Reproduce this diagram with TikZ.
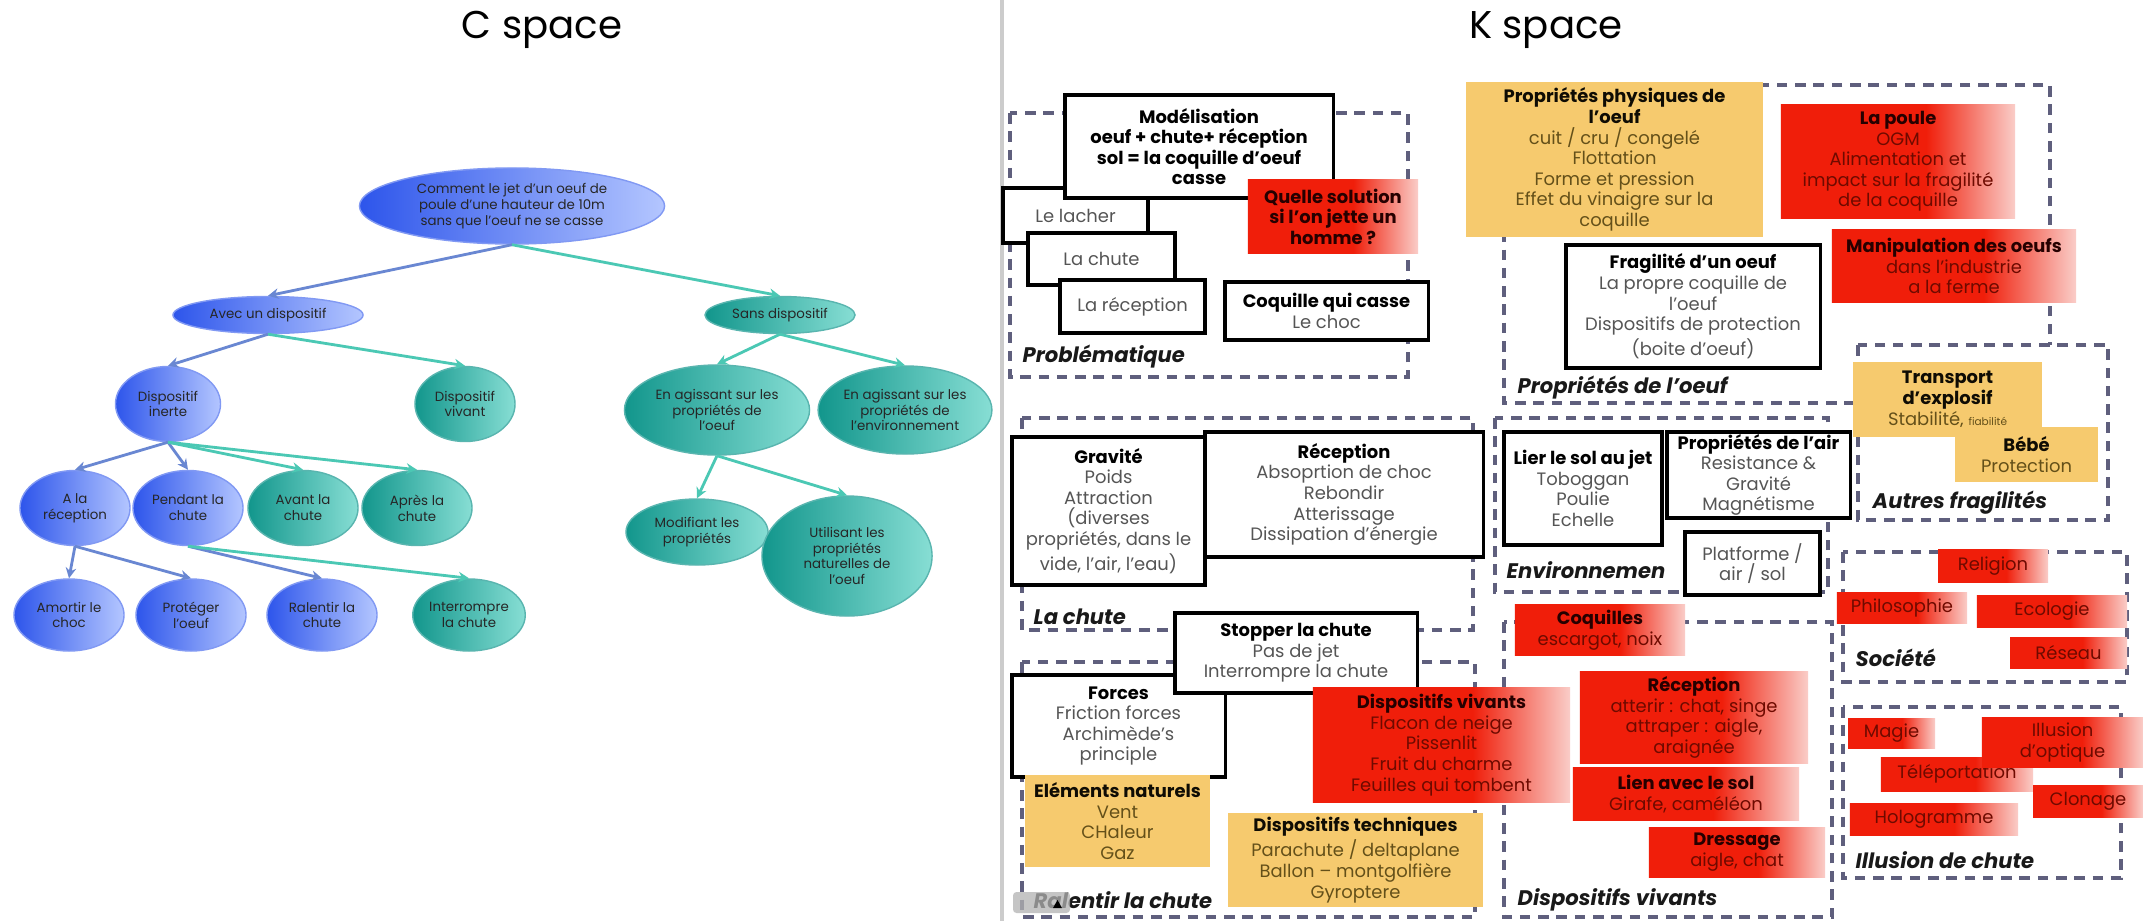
\documentclass[tikz,border=0pt]{standalone}
\usepackage{fontspec}
\setmainfont{Poppins}
\usetikzlibrary{arrows.meta}
\usetikzlibrary{shapes.geometric}

\definecolor{cbluedark}{RGB}{45,85,235}
\definecolor{cbluelight}{RGB}{180,198,255}
\definecolor{ctealdark}{RGB}{18,150,140}
\definecolor{ctheallight}{RGB}{135,222,212}
\definecolor{cbluelink}{RGB}{105,135,210}
\definecolor{ctheallink}{RGB}{75,200,180}
\definecolor{kgray}{RGB}{85,85,85}
\definecolor{kdash}{RGB}{95,95,125}
\definecolor{korange}{RGB}{246,202,110}
\definecolor{kbrown}{RGB}{100,80,25}
\definecolor{kred}{RGB}{240,30,10}
\definecolor{kpink}{RGB}{250,205,200}
\definecolor{kredtext}{RGB}{110,10,0}
\colorlet{kheadc}{black}

\pgfdeclarehorizontalshading{redfade}{100bp}{color(0bp)=(kred); color(25bp)=(kred); color(56bp)=(kred); color(75bp)=(kpink); color(100bp)=(kpink)}

\newcommand\csmall{\fontsize{3.8}{4.5}\selectfont}
\newcommand\ksmall{\fontsize{5.1}{5.85}\selectfont}
\newcommand\klab{\fontsize{6}{7}\selectfont\bfseries\itshape}
\newcommand\spacetitle{\fontsize{11}{13}\selectfont}
\newcommand\kh[1]{\textbf{\textcolor{kheadc}{#1}}}

\tikzset{
  cnode/.style={ellipse, inner sep=0pt, align=center, font=\csmall, text=black!85},
  cblue/.style={cnode, left color=cbluedark, right color=cbluelight, draw=cbluedark!60!white, line width=0.4pt},
  cteal/.style={cnode, left color=ctealdark, right color=ctheallight, draw=ctealdark!70!white, line width=0.4pt},
  clinkb/.style={draw=cbluelink, line width=0.8pt, -{Stealth[length=3pt, width=3pt]}},
  clinkt/.style={draw=ctheallink, line width=0.8pt, -{Stealth[length=3pt, width=3pt]}},
  kbase/.style={inner sep=0pt, align=center, font=\ksmall},
  kbox/.style={kbase, draw=black, line width=0.9pt, fill=white, text=kgray, execute at begin node=\colorlet{kheadc}{black}},
  kwarm/.style={kbase, fill=korange, text=kbrown, execute at begin node=\colorlet{kheadc}{black!85!kbrown}},
  khot/.style={kbase, shade, shading=redfade, text=kredtext, execute at begin node=\colorlet{kheadc}{black!85!red}},
  kgroup/.style={draw=kdash, line width=0.9pt, dash pattern=on 3pt off 2.2pt},
  klabel/.style={anchor=west, inner sep=0pt, font=\klab, text=black!90},
}

\begin{document}
\begin{tikzpicture}[x=0.01cm, y=-0.01cm]
  \useasboundingbox (0,0) rectangle (2143,921);
  \fill[white] (0,0) rectangle (2143,921);
  \draw[black!20, line width=1pt] (1002,0) -- (1002,921);

  % C space
  \node[font=\spacetitle] (ctitle) at (542,30) {C space};
  \node[cblue, minimum width=3.05cm, minimum height=0.76cm] (root) at (512,206) {Comment le jet d'un oeuf de\\poule d'une hauteur de 10m\\sans que l'oeuf ne se casse};
  \node[cblue, minimum width=1.9cm, minimum height=0.37cm] (avec) at (268,315) {Avec un dispositif};
  \node[cteal, minimum width=1.5cm, minimum height=0.37cm] (sans) at (780,315) {Sans dispositif};
  \node[cblue, minimum width=1.05cm, minimum height=0.75cm] (inerte) at (168,404) {Dispositif\\inerte};
  \node[cteal, minimum width=1.0cm, minimum height=0.75cm] (vivant) at (465,404) {Dispositif\\vivant};
  \node[cteal, minimum width=1.85cm, minimum height=0.9cm] (agoeuf) at (717,410) {En agissant sur les\\propriétés de\\l'oeuf};
  \node[cteal, minimum width=1.65cm, minimum height=0.88cm] (agenv) at (905,410) {En agissant sur les\\propriétés de\\l'environnement};
  \node[cblue, minimum width=1.1cm, minimum height=0.75cm] (arecep) at (75,508) {A la\\réception};
  \node[cblue, minimum width=1.1cm, minimum height=0.75cm] (pendant) at (188,508) {Pendant la\\chute};
  \node[cteal, minimum width=1.1cm, minimum height=0.75cm] (avant) at (303,508) {Avant la\\chute};
  \node[cteal, minimum width=1.1cm, minimum height=0.75cm] (apres) at (417,508) {Après la\\chute};
  \node[cteal, minimum width=1.42cm, minimum height=0.66cm] (modif) at (697,532) {Modifiant les\\propriétés};
  \node[cteal, minimum width=1.7cm, minimum height=1.2cm] (utilis) at (847,556) {Utilisant les\\propriétés\\naturelles de\\l'oeuf};
  \node[cblue, minimum width=1.1cm, minimum height=0.72cm] (amortir) at (69,615) {Amortir le\\choc};
  \node[cblue, minimum width=1.1cm, minimum height=0.72cm] (proteger) at (191,615) {Protéger\\l'oeuf};
  \node[cblue, minimum width=1.1cm, minimum height=0.72cm] (ralentir) at (322,615) {Ralentir la\\chute};
  \node[cteal, minimum width=1.1cm, minimum height=0.72cm] (interr) at (469,615) {Interrompre\\la chute};

  \foreach \a/\b in {root/avec, avec/inerte, inerte/arecep, inerte/pendant, arecep/amortir, arecep/proteger, pendant/ralentir}
    \draw[clinkb] (\a.south) -- (\b.north);
  \foreach \a/\b in {root/sans, avec/vivant, sans/agoeuf, sans/agenv, inerte/avant, inerte/apres, agoeuf/modif, agoeuf/utilis, pendant/interr}
    \draw[clinkt] (\a.south) -- (\b.north);

  % K space
  \node[font=\spacetitle] (ktitle) at (1546,30) {K space};

  % groups
  \draw[kgroup] (1010,113) rectangle (1408,377);
  \draw[kgroup] (1022,418) rectangle (1473,630);
  \draw[kgroup] (1022,662) rectangle (1475,917);
  \draw[kgroup] (1504,85) rectangle (2050,403);
  \draw[kgroup] (1495,418) rectangle (1828,592);
  \draw[kgroup] (1504,622) rectangle (1832,917);
  \draw[kgroup] (1843,552) rectangle (2127,682);
  \draw[kgroup] (1843,707) rectangle (2121,878);

  % Problematique
  \node[kbox, minimum width=1.45cm, minimum height=0.55cm] (lacher) at (1075.5,215.5) {Le lacher};
  \node[kbox, minimum width=2.68cm, minimum height=1.03cm] (model) at (1199,146.5) {\kh{Modélisation}\\\kh{oeuf + chute+ réception}\\\kh{sol = la coquille d'oeuf}\\\kh{casse}};
  \node[kbox, minimum width=1.47cm, minimum height=0.52cm] (lachute) at (1101.5,259) {La chute};
  \node[kbox, minimum width=1.45cm, minimum height=0.53cm] (larecep) at (1132.5,306.5) {La réception};
  \node[khot, minimum width=1.70cm, minimum height=0.73cm] (homme) at (1333,216.5) {\kh{Quelle solution}\\\kh{si l'on jette un}\\\kh{homme ?}};
  \node[kbox, minimum width=2.03cm, minimum height=0.58cm] (coquille) at (1326.5,311) {\kh{Coquille qui casse}\\Le choc};
  \node[klabel] (lprob) at (1022,357) {Problématique};

  % La chute
  \node[kbox, minimum width=2.78cm, minimum height=1.25cm] (recep) at (1344,494.5) {\kh{Réception}\\Absoprtion de choc\\Rebondir\\Atterissage\\Dissipation d'énergie};
  \node[kbox, minimum width=1.93cm, minimum height=1.48cm] (gravite) at (1108.5,511) {\kh{Gravité}\\Poids\\Attraction\\(diverses\\propriétés, dans le\\vide, l'air, l'eau)};
  \node[klabel] (lchute) at (1033,617) {La chute};

  % Ralentir la chute
  \node[kbox, minimum width=2.13cm, minimum height=1.02cm] (forces) at (1118.5,726) {\kh{Forces}\\Friction forces\\Archimède's\\principle};
  \node[kbox, minimum width=2.42cm, minimum height=0.80cm] (stopper) at (1296,653) {\kh{Stopper la chute}\\Pas de jet\\Interrompre la chute};
  \node[khot, minimum width=2.57cm, minimum height=1.14cm] (dispviv) at (1441.5,745) {\kh{Dispositifs vivants}\\Flacon de neige\\Pissenlit\\Fruit du charme\\Feuilles qui tombent};
  \node[kwarm, minimum width=1.85cm, minimum height=0.92cm] (natur) at (1117.5,821) {\kh{Eléments naturels}\\Vent\\CHaleur\\Gaz};
  \node[kwarm, minimum width=2.55cm, minimum height=0.94cm] (techn) at (1355.5,860) {\kh{Dispositifs techniques}\\Parachute / deltaplane\\Ballon – montgolfière\\Gyroptere};
  \node[klabel] (lralentir) at (1033,900) {Ralentir la chute};
  \fill[black!30, opacity=0.75, rounded corners=1pt] (1013,892) rectangle (1070,913);
  \fill[black] (1053,908) -- (1062,908) -- (1057.5,900) -- cycle;

  % Proprietes de l'oeuf
  \node[kwarm, minimum width=2.97cm, minimum height=1.55cm] (physiq) at (1614.5,159.5) {\kh{Propriétés physiques de}\\\kh{l'oeuf}\\cuit / cru / congelé\\Flottation\\Forme et pression\\Effet du vinaigre sur la\\coquille};
  \node[khot, minimum width=2.34cm, minimum height=1.13cm] (poule) at (1898,161.5) {\kh{La poule}\\OGM\\Alimentation et\\impact sur la fragilité\\de la coquille};
  \node[khot, minimum width=2.44cm, minimum height=0.72cm] (manip) at (1954,266) {\kh{Manipulation des oeufs}\\dans l'industrie\\a la ferme};
  \node[kbox, minimum width=2.54cm, minimum height=1.23cm] (fragil) at (1693,306.5) {\kh{Fragilité d'un oeuf}\\La propre coquille de\\l'oeuf\\Dispositifs de protection\\(boite d'oeuf)};
  \node[klabel] (loeuf) at (1517,388) {Propriétés de l'oeuf};

  % Autres fragilites
  \draw[kgroup, fill=white] (1858,345) rectangle (2108,520);
  \node[kwarm, minimum width=1.89cm, minimum height=0.75cm] (transp) at (1947.5,399.5) {\kh{Transport}\\\kh{d'explosif}\\Stabilité, {\fontsize{3}{3}\selectfont fiabilité}};
  \node[kwarm, minimum width=1.43cm, minimum height=0.55cm] (bebe) at (2026.5,454.5) {\kh{Bébé}\\Protection};
  \node[klabel] (lautres) at (1872,503) {Autres fragilités};

  % Environnement
  \node[kbox, minimum width=1.58cm, minimum height=1.13cm] (lier) at (1583,488.5) {\kh{Lier le sol au jet}\\Toboggan\\Poulie\\Echelle};
  \node[kbox, minimum width=1.83cm, minimum height=0.86cm] (air) at (1758.5,475) {\kh{Propriétés de l'air}\\Resistance \&\\Gravité\\Magnétisme};
  \node[kbox, minimum width=1.35cm, minimum height=0.63cm] (platf) at (1752.5,563.5) {Platforme /\\air / sol};
  \node[klabel] (lenv) at (1506,570) {Environnemen};

  % Dispositifs vivants
  \node[khot, minimum width=1.70cm, minimum height=0.50cm] (coquilles) at (1600,630) {\kh{Coquilles}\\escargot, noix};
  \node[khot, minimum width=2.28cm, minimum height=0.91cm] (recep2) at (1694,717.5) {\kh{Réception}\\atterir : chat, singe\\attraper : aigle,\\araignée};
  \node[khot, minimum width=2.26cm, minimum height=0.52cm] (lien) at (1686,794) {\kh{Lien avec le sol}\\Girafe, caméléon};
  \node[khot, minimum width=1.76cm, minimum height=0.50cm] (dressage) at (1737,852) {\kh{Dressage}\\aigle, chat};
  \node[klabel] (lvivants) at (1517,900) {Dispositifs vivants};

  % Societe
  \node[khot, minimum width=1.10cm, minimum height=0.32cm] (religion) at (1993,566) {Religion};
  \node[khot, minimum width=1.30cm, minimum height=0.31cm] (philo) at (1902,607.5) {Philosophie};
  \node[khot, minimum width=1.50cm, minimum height=0.32cm] (ecolo) at (2052,611) {Ecologie};
  \node[khot, minimum width=1.17cm, minimum height=0.31cm] (reseau) at (2068.5,652.5) {Réseau};
  \node[klabel] (lsociete) at (1855,658) {Société};

  % Illusion de chute
  \node[khot, minimum width=0.87cm, minimum height=0.30cm] (magie) at (1891.5,733) {Magie};
  \node[khot, minimum width=1.52cm, minimum height=0.34cm] (telep) at (1957,774) {Téléportation};
  \node[khot, minimum width=1.61cm, minimum height=0.49cm] (optique) at (2062.5,742.5) {Illusion\\d'optique};
  \node[khot, minimum width=1.10cm, minimum height=0.32cm] (clonage) at (2088,801) {Clonage};
  \node[khot, minimum width=1.68cm, minimum height=0.32cm] (holo) at (1934,819) {Hologramme};
  \node[klabel] (lillusion) at (1855,860) {Illusion de chute};
\end{tikzpicture}
\end{document}
